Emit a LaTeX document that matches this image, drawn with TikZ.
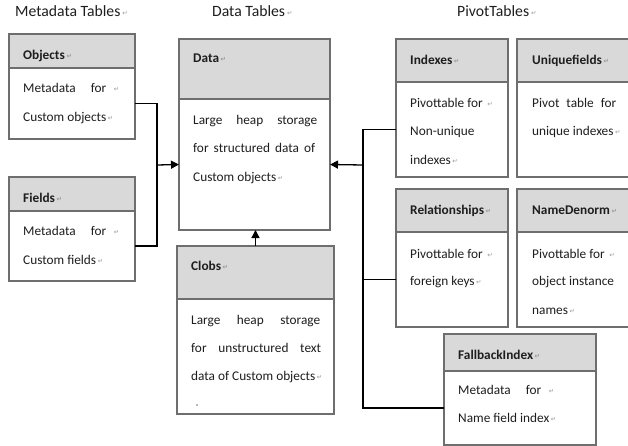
\documentclass[tikz,border=0pt]{standalone}
\usepackage{fontspec}
\setmainfont{Carlito}
\newfontfamily\markfont{DejaVu Sans}
\usetikzlibrary{arrows.meta}

\definecolor{hdrgray}{HTML}{D9D9D9}
\definecolor{boxgray}{HTML}{6E6E6E}
\definecolor{inkgray}{HTML}{1E1E1E}
\definecolor{markgray}{HTML}{9A9A9A}

% Word paragraph mark after a paragraph
\newcommand\pmk{\hspace{0.12em}{\markfont\fontsize{6.5}{6.5}\selectfont\color{markgray}\raisebox{0.2ex}{↵}}}
% a justified line of given width
\newcommand\jline[2]{\makebox[#1pt][s]{#2}}

\begin{document}
\begin{tikzpicture}[x=1pt,y=-1pt,
  every node/.style={text=inkgray},
  hdr/.style={draw=boxgray, fill=hdrgray, line width=1.3pt, anchor=north west, inner sep=0pt, outer sep=0pt},
  body/.style={draw=boxgray, fill=white, line width=1.3pt, anchor=north west, inner sep=0pt, outer sep=0pt},
  ttl/.style={anchor=mid west, inner sep=0pt, font=\fontsize{15.7}{18}\selectfont},
  hd/.style={anchor=mid west, inner sep=0pt, font=\fontsize{13.3}{16}\selectfont\bfseries},
  tx/.style={anchor=mid west, inner sep=0pt, font=\fontsize{13.3}{16}\selectfont},
  link/.style={draw=black, line width=1.3pt},
  tip/.style={-{Triangle[length=8pt,width=8pt]}}
]
\useasboundingbox (0,0) rectangle (628,446);
\clip (0,0) rectangle (628,446);

% ---------- column titles ----------
\node[ttl] (tmeta) at (15,14) {Metadata Tables\pmk};
\node[ttl] (tdata) at (212,14) {Data Tables\pmk};
\node[ttl] (tpivot) at (457,14) {PivotTables\pmk};

% ---------- metadata tables ----------
\node[hdr, minimum width=126pt, minimum height=34pt] (objH) at (9,34) {};
\node[body, minimum width=126pt, minimum height=71pt] (objB) at (9,68) {};
\node[hd] (objT) at (23,57) {Objects\pmk};
\node[tx] (obj1) at (23,90) {\jline{83}{Metadata for}\hspace{6pt}\pmk};
\node[tx] (obj2) at (23,119) {Custom objects\pmk};

\node[hdr, minimum width=126pt, minimum height=34pt] (fldH) at (9,177) {};
\node[body, minimum width=126pt, minimum height=70pt] (fldB) at (9,211) {};
\node[hd] (fldT) at (23,200) {Fields\pmk};
\node[tx] (fld1) at (23,233) {\jline{83}{Metadata for}\hspace{6pt}\pmk};
\node[tx] (fld2) at (23,262) {Custom fields\pmk};

% ---------- data tables ----------
\node[hdr, minimum width=151pt, minimum height=60pt] (dataH) at (179,39) {};
\node[body, minimum width=151pt, minimum height=131pt] (dataB) at (179,99) {};
\node[hd] (dataT) at (193,60) {Data\pmk};
\node[tx] (data1) at (193,122) {\jline{124}{Large heap storage}};
\node[tx] (data2) at (193,150) {\jline{122}{for structured data of}};
\node[tx] (data3) at (193,179) {Custom objects\pmk};

\node[hdr, minimum width=157pt, minimum height=53pt] (clobH) at (177,246) {};
\node[body, minimum width=157pt, minimum height=115pt] (clobB) at (177,299) {};
\node[hd] (clobT) at (191,268) {Clobs\pmk};
\node[tx] (clob1) at (191,322) {\jline{129}{Large heap storage}};
\node[tx] (clob2) at (191,350) {\jline{130}{for unstructured text}};
\node[tx] (clob3) at (191,378) {data of Custom objects\pmk};
\node[inner sep=0pt, fill=markgray!70, minimum width=2pt, minimum height=2pt] (clobdot) at (197,405) {};

% ---------- pivot tables ----------
\node[hdr, minimum width=112pt, minimum height=43pt] (idxH) at (396,39) {};
\node[body, minimum width=112pt, minimum height=95pt] (idxB) at (396,82) {};
\node[hd] (idxT) at (410,62) {Indexes\pmk};
\node[tx] (idx1) at (410,105) {Pivottable for \pmk};
\node[tx] (idx2) at (410,133) {Non-unique};
\node[tx] (idx3) at (410,162) {indexes\pmk};

\node[hdr, minimum width=130pt, minimum height=43pt] (uniH) at (517,39) {};
\node[body, minimum width=130pt, minimum height=95pt] (uniB) at (517,82) {};
\node[hd] (uniT) at (532,62) {Uniquefields\pmk};
\node[tx] (uni1) at (532,105) {\jline{84}{Pivot table for}};
\node[tx] (uni2) at (532,133) {unique indexes\pmk};

\node[hdr, minimum width=112pt, minimum height=43pt] (relH) at (396,189) {};
\node[body, minimum width=112pt, minimum height=95pt] (relB) at (396,232) {};
\node[hd] (relT) at (410,212) {Relationships\pmk};
\node[tx] (rel1) at (410,256) {Pivottable for \pmk};
\node[tx] (rel2) at (410,283) {foreign keys\pmk};

\node[hdr, minimum width=130pt, minimum height=43pt] (ndH) at (517,189) {};
\node[body, minimum width=130pt, minimum height=95pt] (ndB) at (517,232) {};
\node[hd] (ndT) at (532,212) {NameDenorm\pmk};
\node[tx] (nd1) at (532,256) {Pivottable for \pmk};
\node[tx] (nd2) at (532,283) {object instance};
\node[tx] (nd3) at (532,312) {names\pmk};

\node[hdr, minimum width=152pt, minimum height=37pt] (fbH) at (444,334) {};
\node[body, minimum width=152pt, minimum height=74pt] (fbB) at (444,371) {};
\node[hd] (fbT) at (458,357) {FallbackIndex\pmk};
\node[tx] (fb1) at (458,392) {\jline{83}{Metadata for}\hspace{6pt}\pmk};
\node[tx] (fb2) at (458,420) {Name field index\pmk};

% ---------- connectors ----------
\coordinate (lbus) at (157,165);
\coordinate (rbus) at (363,165);

\draw[link] (objB.east) -| (lbus);
\draw[link] (fldB.east) -| (lbus);
\draw[link, tip] (lbus) -- (dataB.west);

\draw[link] (idxB.west) -| (rbus);
\draw[link] (fbB.west) -| (rbus);
\draw[link] (relB.west) -- (relB.west -| rbus);
\draw[link, tip] (rbus) -- (dataB.east);

\draw[link, tip] (clobH.north) -- (clobH.north |- dataB.south);
\end{tikzpicture}
\end{document}
